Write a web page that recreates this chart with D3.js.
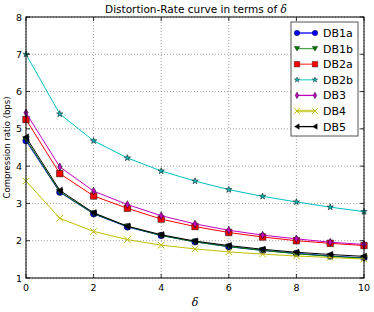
<!DOCTYPE html>
<html>
<head>
<meta charset="utf-8">
<script src="https://cdn.jsdelivr.net/npm/d3@7"></script>
<style>
  body { margin:0; background:#fff; }
  svg { display:block; font-family:"DejaVu Sans", sans-serif; }
</style>
</head>
<body>
<svg id="chart" width="374" height="312"></svg>
<script>
// delta values on the x axis
var deltas = [0, 1, 2, 3, 4, 5, 6, 7, 8, 9, 10];

// compression ratio (bps) per curve
var db1a = [4.68, 3.30, 2.72, 2.37, 2.14, 1.97, 1.84, 1.74, 1.66, 1.59, 1.54];
var db1b = [4.72, 3.31, 2.73, 2.38, 2.14, 1.97, 1.84, 1.74, 1.65, 1.58, 1.53];
var db2a = [5.25, 3.80, 3.20, 2.87, 2.58, 2.38, 2.22, 2.10, 2.00, 1.93, 1.87];
var db2b = [7.00, 5.40, 4.68, 4.22, 3.87, 3.60, 3.37, 3.19, 3.04, 2.90, 2.78];
var db3  = [5.43, 3.98, 3.33, 2.97, 2.67, 2.45, 2.28, 2.15, 2.05, 1.96, 1.90];
var db4  = [3.60, 2.60, 2.25, 2.03, 1.88, 1.78, 1.70, 1.64, 1.59, 1.55, 1.51];
var db5  = [4.78, 3.35, 2.75, 2.39, 2.16, 1.99, 1.87, 1.77, 1.69, 1.63, 1.58];

var seriesNames = ["DB1a", "DB1b", "DB2a", "DB2b", "DB3", "DB4", "DB5"];
var seriesValues = [db1a, db1b, db2a, db2b, db3, db4, db5];
var seriesColors = ["#0000ff", "#008000", "#ff0000", "#00bfbf", "#bf00bf", "#bfbf00", "#000000"];
var seriesMarkers = ["circle", "triDown", "square", "star", "diamond", "cross", "triLeft"];

var xTicks = [0, 2, 4, 6, 8, 10];
var yTicks = [1, 2, 3, 4, 5, 6, 7, 8];

var margin = {left: 26, right: 10, top: 17, bottom: 34};
var width = 374, height = 312;

var svg = d3.select("#chart");

var x = d3.scaleLinear().domain([0, 10]).range([margin.left, width - margin.right]);
var y = d3.scaleLinear().domain([1, 8]).range([height - margin.bottom, margin.top]);

// grid
var grid = svg.append("g").attr("stroke", "#888").attr("stroke-width", 0.8)
  .attr("stroke-dasharray", "1,2");
xTicks.forEach(function(t) {
  grid.append("line").attr("x1", x(t)).attr("x2", x(t))
    .attr("y1", y.range()[0]).attr("y2", y.range()[1]);
});
yTicks.forEach(function(t) {
  grid.append("line").attr("x1", x.range()[0]).attr("x2", x.range()[1])
    .attr("y1", y(t)).attr("y2", y(t));
});

// markers
function markerPath(type, s) {
  var h = s / 2;
  switch (type) {
    case "circle": return d3.symbol(d3.symbolCircle, Math.PI * h * h)();
    case "square": return "M" + -h + "," + -h + "H" + h + "V" + h + "H" + -h + "Z";
    case "diamond": return "M0," + -h * 1.2 + "L" + h * 0.65 + ",0L0," + h * 1.2 + "L" + -h * 0.65 + ",0Z";
    case "triDown": return "M" + -h + "," + -h * 0.8 + "H" + h + "L0," + h * 0.9 + "Z";
    case "triLeft": return "M" + -h * 0.9 + ",0L" + h * 0.8 + "," + -h + "V" + h + "Z";
    case "star": return d3.symbol(d3.symbolStar, s * s * 0.35)();
    case "cross": return "M" + -h + "," + -h + "L" + h + "," + h + "M" + -h + "," + h + "L" + h + "," + -h;
  }
}

var line = d3.line().x(function(d, i) { return x(deltas[i]); }).y(function(d) { return y(d); });

var plot = svg.append("g");
seriesValues.forEach(function(vals, k) {
  var c = seriesColors[k];
  plot.append("path").datum(vals).attr("d", line)
    .attr("fill", "none").attr("stroke", c).attr("stroke-width", 1);
  var m = seriesMarkers[k];
  plot.selectAll(null).data(vals).enter().append("path")
    .attr("transform", function(d, i) { return "translate(" + x(deltas[i]) + "," + y(d) + ")"; })
    .attr("d", markerPath(m, m === "star" ? 6 : 6.5))
    .attr("fill", m === "cross" ? "none" : c)
    .attr("stroke", m === "cross" ? c : "#000")
    .attr("stroke-width", m === "cross" ? 1 : 0.5);
});

// frame and inward ticks
var x0 = x.range()[0], x1 = x.range()[1], y0 = y.range()[0], y1 = y.range()[1];
svg.append("rect").attr("x", x0).attr("y", y1).attr("width", x1 - x0).attr("height", y0 - y1)
  .attr("fill", "none").attr("stroke", "#000").attr("stroke-width", 1);
var ticks = svg.append("g").attr("stroke", "#000").attr("stroke-width", 0.8);
xTicks.forEach(function(t) {
  ticks.append("line").attr("x1", x(t)).attr("x2", x(t)).attr("y1", y0).attr("y2", y0 - 4);
  ticks.append("line").attr("x1", x(t)).attr("x2", x(t)).attr("y1", y1).attr("y2", y1 + 4);
});
yTicks.forEach(function(t) {
  ticks.append("line").attr("x1", x0).attr("x2", x0 + 4).attr("y1", y(t)).attr("y2", y(t));
  ticks.append("line").attr("x1", x1).attr("x2", x1 - 4).attr("y1", y(t)).attr("y2", y(t));
});

// tick labels
svg.append("g").selectAll("text").data(xTicks).enter().append("text")
  .attr("x", function(d) { return x(d); }).attr("y", y0 + 13)
  .attr("text-anchor", "middle").attr("font-size", 9.5).text(function(d) { return d; });
svg.append("g").selectAll("text").data(yTicks).enter().append("text")
  .attr("x", x0 - 4).attr("y", function(d) { return y(d) + 3.5; })
  .attr("text-anchor", "end").attr("font-size", 9.5).text(function(d) { return d; });

// axis titles
svg.append("text").attr("x", (x0 + x1) / 2).attr("y", y0 + 28)
  .attr("text-anchor", "middle").attr("font-size", 11).attr("font-style", "italic")
  .attr("font-family", "DejaVu Serif, serif").text("δ");
svg.append("text").attr("transform", "translate(10," + (y0 + y1) / 2 + ") rotate(-90)")
  .attr("text-anchor", "middle").attr("font-size", 8.5).text("Compression ratio (bps)");
var title = svg.append("text").attr("x", (x0 + x1) / 2 + 1).attr("y", 13)
  .attr("text-anchor", "middle").attr("font-size", 10.5);
title.append("tspan").text("Distortion-Rate curve in terms of ");
title.append("tspan").attr("font-style", "italic").attr("font-family", "DejaVu Serif, serif").text("δ");

// legend
var lg = svg.append("g").attr("transform", "translate(291,22)");
lg.append("rect").attr("width", 67).attr("height", 114)
  .attr("fill", "#fff").attr("stroke", "#555").attr("stroke-width", 1);
seriesNames.forEach(function(name, k) {
  var yy = 11 + k * 15.6;
  var c = seriesColors[k], m = seriesMarkers[k];
  var isLight = k === 1 || k === 2 || k === 3 || k === 5;
  lg.append("line").attr("x1", 6).attr("x2", 24).attr("y1", yy).attr("y2", yy)
    .attr("stroke", c).attr("stroke-width", k === 5 ? 2.5 : 1.3).attr("stroke-opacity", isLight ? 0.7 : 1);
  [6, 24].forEach(function(px) {
    lg.append("path").attr("transform", "translate(" + px + "," + yy + ")")
      .attr("d", markerPath(m, m === "star" ? 5 : 5.5))
      .attr("fill", m === "cross" ? "none" : c)
      .attr("stroke", m === "cross" ? c : "#000")
      .attr("stroke-width", m === "cross" ? 1 : 0.4);
  });
  lg.append("text").attr("x", 32).attr("y", yy + 4).attr("font-size", 11).text(name);
});
</script>
</body>
</html>
